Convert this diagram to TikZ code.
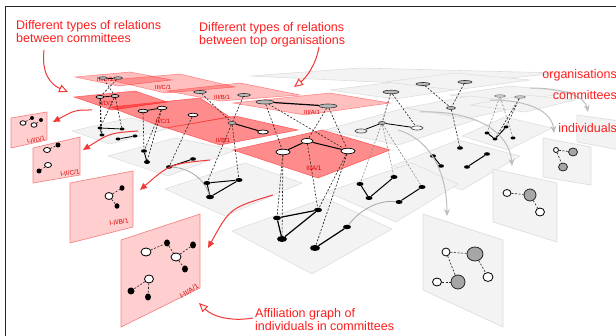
\documentclass[tikz,border=0pt]{standalone}
\usepackage{fontspec}
\setmainfont{Liberation Sans}
\usetikzlibrary{shapes.geometric,arrows.meta}
\definecolor{cRtext}{RGB}{255,28,28}
\definecolor{cRarrow}{RGB}{242,55,55}
\definecolor{cRpanel}{RGB}{255,206,206}
\definecolor{cRpanelb}{RGB}{245,135,135}
\definecolor{cGpl}{RGB}{243,243,243}
\definecolor{cGplb}{RGB}{222,222,222}
\definecolor{cGarrow}{RGB}{190,190,190}
\pgfdeclarelayer{planes}
\pgfdeclarelayer{links}
\pgfsetlayers{planes,links,main}
\begin{document}
\begin{tikzpicture}[x=1pt,y=-1pt,
  gplane/.style={fill=cGpl,draw=cGplb,line width=.6pt},
  rplanetwo/.style={fill=red,fill opacity=.45,draw=red!85,draw opacity=.6,line width=.6pt},
  rplanethree/.style={fill=red,fill opacity=.25,draw=red!85,draw opacity=.45,line width=.6pt},
  rpanel/.style={fill=cRpanel,draw=cRpanelb,line width=.7pt},
  gpanel/.style={fill=cGpl,draw=cGplb,line width=.7pt},
  onode/.style={ellipse,draw=black!80,fill=gray!55,line width=.6pt,inner sep=0pt,minimum width=14pt,minimum height=3.5pt},
  cnode/.style={ellipse,draw=black,fill=white,line width=.7pt,inner sep=0pt,minimum width=13pt,minimum height=5pt},
  inode/.style={ellipse,fill=black,inner sep=0pt,minimum width=7pt,minimum height=4pt},
  pwn/.style={ellipse,draw=black,fill=white,line width=.8pt,inner sep=0pt,minimum width=9pt,minimum height=7pt},
  pbn/.style={ellipse,fill=black,inner sep=0pt,minimum width=5pt,minimum height=6pt},
  pgn/.style={ellipse,draw=black!85,fill=gray!70,line width=.8pt,inner sep=0pt,minimum width=13pt,minimum height=12pt},
  dl/.style={draw=black!85,dash pattern=on 2pt off 1.6pt,line width=.65pt},
  ldl/.style={draw=black!45,dash pattern=on 2pt off 1.6pt,line width=.6pt},
  sl/.style={draw=black,line width=1pt},
  plabel/.style={text=red!85!black,font=\fontsize{6}{7}\selectfont,inner sep=0pt},
  captxt/.style={text=cRtext,font=\fontsize{12.5}{12.8}\selectfont,align=left,inner sep=0pt},
  rarr/.style={draw=cRarrow,line width=1pt,-{Triangle[length=7pt,width=6pt]}},
  oarr/.style={draw=cRarrow,line width=1pt,-{Triangle[open,length=9pt,width=8pt]}},
  garr/.style={draw=cGarrow,line width=1pt,-{Stealth[length=7pt,width=6pt]}},
  gcurve/.style={draw=gray!70,line width=.8pt}
]
\useasboundingbox (0,0) rectangle (616,336);

% ---------------- planes ----------------
\begin{pgfonlayer}{planes}
% right group, organisations level
\draw[gplane] (250,76) -- (360,68) -- (560,73) -- (440,85) -- cycle;
\draw[gplane] (330,90) -- (420,79) -- (480,86) -- (395,99) -- cycle;
\draw[gplane] (385,82) -- (455,73) -- (530,80) -- (455,90) -- cycle;
\draw[gplane] (450,95) -- (510,86) -- (570,92) -- (510,103) -- cycle;
% right group, committees level
\draw[gplane] (325,130) -- (405,108) -- (475,120) -- (398,145) -- cycle;
\draw[gplane] (405,108) -- (470,96) -- (535,104) -- (470,118) -- cycle;
\draw[gplane] (470,105) -- (525,95) -- (575,100) -- (525,112) -- cycle;
% right group, individuals level
\draw[gplane] (462,136) -- (505,117) -- (552,128) -- (508,150) -- cycle;
\draw[gplane] (392,166) -- (458,140) -- (520,156) -- (462,190) -- cycle;
\draw[gplane] (327,192) -- (412,163) -- (458,184) -- (396,222) -- cycle;
% left group, individuals level
\draw[gplane] (72,131) -- (130,118) -- (170,128) -- (110,144) -- cycle;
\draw[gplane] (108,156) -- (175,138) -- (236,150) -- (168,176) -- cycle;
\draw[gplane] (165,189) -- (245,163) -- (302,183) -- (225,216) -- cycle;
\draw[gplane] (232,231) -- (325,198) -- (392,229) -- (312,274) -- cycle;
% left group, committees level (II)
\draw[rplanetwo] (74,97) -- (135,91) -- (167,102) -- (112,110) -- cycle;
\draw[rplanetwo] (110,107) -- (200,98) -- (230,117) -- (165,128) -- cycle;
\draw[rplanetwo] (167,128) -- (235,116) -- (298,130) -- (220,145) -- cycle;
\draw[rplanetwo] (233,150) -- (322,130) -- (390,150) -- (318,178) -- cycle;
% left group, organisations level (III)
\draw[rplanethree] (75,77) -- (130,72) -- (172,80) -- (118,86) -- cycle;
\draw[rplanethree] (110,80) -- (180,74) -- (235,87) -- (165,93) -- cycle;
\draw[rplanethree] (167,91) -- (240,83) -- (300,95) -- (220,101) -- cycle;
\draw[rplanethree] (233,103) -- (330,93) -- (390,103) -- (305,115) -- cycle;
% side panels (red)
\draw[rpanel] (11,118) -- (47,112) -- (47,140) -- (11,148) -- cycle;
\draw[rpanel] (33,148) -- (80,137) -- (80,175) -- (33,183) -- cycle;
\draw[rpanel] (70,183) -- (133,171) -- (133,227) -- (70,243) -- cycle;
\draw[rpanel] (121,240) -- (200,214) -- (200,288) -- (121,327) -- cycle;
% side panels (gray)
\draw[gpanel] (577,115) -- (620,121) -- (620,150) -- (577,142) -- cycle;
\draw[gpanel] (543,138) -- (591,147) -- (591,185) -- (543,177) -- cycle;
\draw[gpanel] (493,169) -- (557,183) -- (557,242) -- (493,222) -- cycle;
\draw[gpanel] (423,214) -- (503,240) -- (503,327) -- (423,290) -- cycle;
\end{pgfonlayer}

% frame
\draw[line width=1.8pt,black!85] (5.5,336) -- (5.5,6.5) -- (616,6.5);

% ---------------- plane labels ----------------
\node[plabel] (l3d) at (105,79) {III/D/1};
\node[plabel] (l3c) at (163,87) {III/C/1};
\node[plabel] (l3b) at (222,97) {III/B/1};
\node[plabel] (l3a) at (312,112) {III/A/1};
\node[plabel] (l2d) at (106,103) {II/D/1};
\node[plabel] (l2c) at (163,121) {II/C/1};
\node[plabel] (l2b) at (223,140) {II/B/1};
\node[plabel,font=\fontsize{6.5}{7}\selectfont] (l2a) at (314,168) {II/A/1};
\node[plabel,rotate=12] (lpd) at (36,140) {I-II/D/1};
\node[plabel,rotate=10,font=\fontsize{6.5}{7}\selectfont] (lpc) at (70,173) {I-II/C/1};
\node[plabel,rotate=9,font=\fontsize{6.5}{7}\selectfont] (lpb) at (119,222) {I-II/B/1};
\node[plabel,rotate=32,font=\fontsize{7}{8}\selectfont] (lpa) at (189,291) {I-II/A/1};

% ---------------- nodes: left group ----------------
\node[onode,minimum width=9pt,minimum height=2.5pt] (od1) at (103,78) {};
\node[onode,minimum width=9pt,minimum height=2.5pt] (od2) at (118,78) {};
\node[onode,minimum width=13pt,minimum height=3pt] (ob1) at (200,92) {};
\node[onode,minimum width=13pt,minimum height=3pt] (ob2) at (244,95) {};
\node[onode,minimum width=18pt,minimum height=4pt] (oa1) at (265,102) {};
\node[onode,minimum width=18pt,minimum height=4pt] (oa2) at (328,106) {};
\node[cnode,fill=gray!35,minimum width=8pt,minimum height=3pt] (cd1) at (100,97) {};
\node[cnode,fill=gray!35,minimum width=8pt,minimum height=3pt] (cd2) at (115,96) {};
\node[cnode,fill=gray!25,minimum width=10pt,minimum height=3.5pt] (cc1) at (143,111) {};
\node[cnode,fill=gray!10,minimum width=10pt,minimum height=3.5pt] (cc2) at (162,108) {};
\node[cnode,minimum width=10pt,minimum height=3.5pt] (cc3) at (193,115) {};
\node[onode,minimum width=8pt,minimum height=3pt] (cb1) at (232,123) {};
\node[cnode,minimum width=11pt,minimum height=4pt] (cb2) at (263,132) {};
\node[cnode,minimum width=14pt,minimum height=5.5pt] (ca1) at (283,152) {};
\node[cnode,minimum width=12pt,minimum height=5pt] (ca2) at (307,141) {};
\node[cnode,minimum width=14pt,minimum height=5.5pt] (ca3) at (348,151) {};
\node[inode,minimum width=5pt,minimum height=3pt] (id1) at (100,128) {};
\node[inode,minimum width=5pt,minimum height=3pt] (id2) at (122,129) {};
\node[inode,minimum width=5pt,minimum height=3pt] (id3) at (102,135) {};
\node[inode,minimum width=5pt,minimum height=3pt] (id4) at (118,139) {};
\node[inode,minimum width=5pt,minimum height=3pt] (id5) at (135,136) {};
\node[inode,minimum width=6pt,minimum height=3.5pt] (ic1) at (144,151) {};
\node[inode,minimum width=6pt,minimum height=4pt] (ic2) at (147,162) {};
\node[inode,minimum width=6pt,minimum height=3.5pt] (ic3) at (169,167) {};
\node[inode,minimum width=6pt,minimum height=3.5pt] (ic4) at (193,159) {};
\node[inode] (ib1) at (207,183) {};
\node[inode] (ib2) at (239,180) {};
\node[inode,minimum width=8pt,minimum height=4.5pt] (ib3) at (210,197) {};
\node[inode,minimum width=8pt,minimum height=4.5pt] (ia1) at (277,218) {};
\node[inode,minimum width=8pt,minimum height=4.5pt] (ia2) at (318,210) {};
\node[inode,minimum width=10pt,minimum height=6pt] (ia3) at (282,239) {};
\node[inode,minimum width=10pt,minimum height=6pt] (ia4) at (315,248) {};
\node[inode,minimum width=8pt,minimum height=4.5pt] (ia5) at (347,227) {};

% ---------------- nodes: right group ----------------
\node[onode,minimum width=16pt,minimum height=3.5pt] (ro1) at (391,92) {};
\node[onode,minimum width=14pt,minimum height=3pt] (ro2) at (423,84) {};
\node[onode,minimum width=14pt,minimum height=3pt] (ro3) at (465,82) {};
\node[onode,draw=black!50,fill=gray!35,minimum width=11pt,minimum height=2.5pt] (ro4) at (500,96) {};
\node[onode,draw=black!50,fill=gray!35,minimum width=11pt,minimum height=2.5pt] (ro5) at (520,97) {};
\node[cnode,draw=black!70,fill=gray!15,minimum width=12pt,minimum height=4pt] (rc1) at (361,131) {};
\node[onode,minimum width=7pt,minimum height=3pt] (rc2) at (382,123) {};
\node[cnode,draw=black!70,minimum width=12pt,minimum height=4pt] (rc3) at (417,128) {};
\node[onode,minimum width=9pt,minimum height=3pt] (rc4) at (451,108) {};
\node[inode] (ri1) at (360,184) {};
\node[inode] (ri2) at (369,198) {};
\node[inode] (ri3) at (394,177) {};
\node[inode] (ri4) at (399,202) {};
\node[inode] (ri5) at (422,187) {};
\node[inode,minimum width=6pt,minimum height=3.5pt] (ri6) at (433,156) {};
\node[inode,minimum width=6pt,minimum height=3.5pt] (ri7) at (441,166) {};
\node[inode,minimum width=6pt,minimum height=3.5pt] (ri8) at (467,167) {};
\node[inode,minimum width=6pt,minimum height=3.5pt] (ri9) at (487,154) {};
\node[inode,minimum width=6pt,minimum height=3.5pt] (ri10) at (460,148) {};
\node[inode,minimum width=5pt,minimum height=3pt] (ri11) at (487,133) {};
\node[inode,minimum width=5pt,minimum height=3pt] (ri12) at (495,139) {};
\node[inode,minimum width=5pt,minimum height=3pt] (ri13) at (506,127) {};
\node[inode,minimum width=5pt,minimum height=3pt] (ri14) at (513,138) {};

% ---------------- panel nodes ----------------
\node[pwn,minimum width=6pt,minimum height=4.5pt] (pa1) at (23,123) {};
\node[pbn,minimum width=4pt,minimum height=4pt] (pa2) at (32,118) {};
\node[pwn,minimum width=6pt,minimum height=4.5pt] (pa3) at (34,125) {};
\node[pbn,minimum width=4pt,minimum height=4pt] (pa4) at (41,120) {};
\node[pwn,minimum width=7pt,minimum height=5pt] (pb1) at (47,150) {};
\node[pbn,minimum width=5pt,minimum height=5pt] (pb2) at (58,145) {};
\node[pwn,minimum width=7pt,minimum height=5pt] (pb3) at (48,165) {};
\node[pbn,minimum width=5pt,minimum height=5pt] (pb4) at (39,171) {};
\node[pwn,minimum width=8pt,minimum height=7pt] (pc1) at (109,196) {};
\node[pbn,minimum width=5pt,minimum height=5.5pt] (pc2) at (122,188) {};
\node[pbn,minimum width=5pt,minimum height=5.5pt] (pc3) at (117,206) {};
\node[pwn,minimum width=10pt,minimum height=8pt] (pd1) at (146,252) {};
\node[pbn,minimum width=6pt,minimum height=7pt] (pd2) at (167,243) {};
\node[pwn,minimum width=10pt,minimum height=8pt] (pd3) at (176,257) {};
\node[pbn,minimum width=6pt,minimum height=7pt] (pd4) at (193,245) {};
\node[pbn,minimum width=6pt,minimum height=7pt] (pd5) at (185,269) {};
\node[pwn,minimum width=9pt,minimum height=8pt] (pd6) at (149,279) {};
\node[pbn,minimum width=7pt,minimum height=7pt] (pd7) at (131,291) {};
\node[pbn,minimum width=6pt,minimum height=7pt] (pd8) at (148,297) {};
\node[pwn,minimum width=8pt,minimum height=8pt] (g1a) at (446,252) {};
\node[pgn,minimum width=16pt,minimum height=14pt] (g1b) at (475,254) {};
\node[pwn,minimum width=10pt,minimum height=9pt] (g1c) at (488,277) {};
\node[pwn,minimum width=9pt,minimum height=8pt] (g1d) at (437,282) {};
\node[pgn,minimum width=14pt,minimum height=14pt] (g1e) at (458,282) {};
\node[pwn,minimum width=8pt,minimum height=7pt] (g2a) at (507,193) {};
\node[pgn,minimum width=12pt,minimum height=12pt] (g2b) at (530,195) {};
\node[pwn,minimum width=9pt,minimum height=8pt] (g2c) at (540,212) {};
\node[pwn,minimum width=5pt,minimum height=5pt] (g3a) at (556,150) {};
\node[pgn,minimum width=9pt,minimum height=8pt] (g3b) at (573,152) {};
\node[pgn,minimum width=9pt,minimum height=8pt] (g3c) at (563,167) {};

% ---------------- links ----------------
\begin{pgfonlayer}{links}
% solid edges left
\draw[sl,line width=.6pt] (od1) -- (od2);
\draw[sl,line width=1.2pt] (oa1) -- (oa2);
\draw[sl,line width=.7pt] (cd1) -- (cd2);
\draw[sl,line width=.8pt] (cc1) -- (cc2);
\draw[sl] (cb1) -- (cb2);
\draw[sl] (ca1) -- (ca2) -- (ca3);
\draw[sl,line width=.8pt] (id1) -- (id2);
\draw[sl,line width=.8pt] (id1) -- (id3);
\draw[sl,line width=.8pt] (id4) -- (id5);
\draw[sl] (ic1) -- (ic2);
\draw[sl] (ic3) -- (ic4);
\draw[sl] (ib1) -- (ib2) -- (ib3) -- (ib1);
\draw[sl,line width=1.2pt] (ia1) -- (ia2) -- (ia3) -- (ia1);
\draw[sl,line width=1.2pt] (ia4) -- (ia5);
% solid edges right
\draw[sl,line width=.8pt] (rc1) -- (rc2) -- (rc3);
\draw[sl] (ri1) -- (ri2) -- (ri3);
\draw[sl] (ri4) -- (ri5);
\draw[sl] (ri6) -- (ri7);
\draw[sl] (ri8) -- (ri9);
\draw[sl] (ri11) -- (ri12) -- (ri13);
% dashed, left
\draw[dl] (od1) -- (cd2);
\draw[dl] (od2) -- (cd1);
\draw[dl] (cd1) -- (id1);
\draw[dl] (cd1) -- (id3);
\draw[dl] (cd2) -- (id1);
\draw[dl] (cd2) -- (id2);
\draw[dl] (cc1) -- (ic1);
\draw[dl] (cc2) -- (ic1);
\draw[dl] (cc2) -- (ic2);
\draw[dl] (cc3) -- (ic3);
\draw[dl] (ob1) -- (cb1);
\draw[dl] (ob2) -- (cb1);
\draw[dl] (cb1) -- (ib1);
\draw[dl] (cb1) -- (ib2);
\draw[dl] (oa1) -- (ca1);
\draw[dl] (oa1) -- (ca3);
\draw[dl] (oa2) -- (ca2);
\draw[dl] (oa2) -- (ca3);
\draw[dl] (ca1) -- (ia1);
\draw[dl] (ca1) -- (ia3);
\draw[dl] (ca2) -- (ia2);
\draw[dl] (ca3) -- (ia2);
\draw[dl] (ca3) -- (ia4);
% dashed, right
\draw[dl] (ro1) -- (rc2);
\draw[dl] (ro1) -- (rc3);
\draw[dl] (ro2) -- (rc4);
\draw[dl] (ro3) -- (rc4);
\draw[dl] (rc4) -- (ri10);
\draw[ldl] (ro4) -- (ri11);
\draw[ldl] (ro4) -- (ri14);
\draw[dl] (ro5) -- (ri13);
\draw[dl] (ro5) -- (ri12);
\draw[ldl] (rc2) -- (ri1);
\draw[ldl] (rc2) -- (ri3);
\draw[ldl] (rc2) -- (ri5);
% panel edges
\draw[dl] (pa1) -- (pa2);
\draw[dl] (pa3) -- (pa4);
\draw[dl] (pb1) -- (pb2);
\draw[dl] (pb3) -- (pb4);
\draw[dl] (pc1) -- (pc2);
\draw[dl] (pc1) -- (pc3);
\draw[dl] (pd1) -- (pd2);
\draw[dl] (pd2) -- (pd3);
\draw[dl] (pd3) -- (pd4);
\draw[dl] (pd3) -- (pd5);
\draw[dl] (pd6) -- (pd7);
\draw[dl] (pd6) -- (pd8);
\draw[dl] (g1a) -- (g1b);
\draw[dl] (g1b) -- (g1c);
\draw[dl] (g1a) -- (g1e);
\draw[dl] (g1d) -- (g1e);
\draw[dl] (g2a) -- (g2b);
\draw[dl] (g2b) -- (g2c);
\draw[dl] (g3a) -- (g3b);
\draw[dl] (g3a) -- (g3c);
% gray inter-slice curves
\draw[gcurve] (ic3) .. controls (190,168) and (205,180) .. (ib3);
\draw[gcurve] (ia5) .. controls (362,207) and (382,200) .. (ri4);
\end{pgfonlayer}

% ---------------- arrows ----------------
\coordinate (ra1s) at (92,110);  \coordinate (ra1e) at (53,122);
\coordinate (ra2s) at (138,131); \coordinate (ra2e) at (83,150);
\coordinate (ra3s) at (210,160); \coordinate (ra3e) at (140,190);
\coordinate (ra4s) at (273,195); \coordinate (ra4e) at (208,248);
\draw[rarr] (ra1s) .. controls (75,110) .. (ra1e);
\draw[rarr] (ra2s) .. controls (110,133) .. (ra2e);
\draw[rarr] (ra3s) .. controls (170,164) .. (ra3e);
\draw[rarr] (ra4s) .. controls (230,208) .. (ra4e);

\coordinate (ga1s) at (398,130); \coordinate (ga1e) at (447,216);
\coordinate (ga2s) at (420,112); \coordinate (ga2e) at (512,166);
\coordinate (ga3s) at (490,100); \coordinate (ga3e) at (554,133);
\coordinate (ga4s) at (530,88);  \coordinate (ga4e) at (588,112);
\draw[garr] (ga1s) .. controls (432,140) and (447,175) .. (ga1e);
\draw[garr] (ga2s) .. controls (480,110) and (510,135) .. (ga2e);
\draw[garr] (ga3s) .. controls (530,100) and (552,112) .. (ga3e);
\draw[garr] (ga4s) .. controls (565,88) and (585,97) .. (ga4e);

% ---------------- captions ----------------
\node[captxt,anchor=north west] (t1) at (16,20.5) {Different types of relations\\between committees};
\node[captxt,anchor=north west] (t2) at (199,22) {Different types of relations\\between top organisations};
\node[captxt,anchor=north west] (t3) at (255,308) {Affiliation graph of\\individuals in committees};
\node[captxt,anchor=base east] (t4) at (617,79) {organisations};
\node[captxt,anchor=base east] (t5) at (617,100) {committees};
\node[captxt,anchor=base east] (t6) at (617,133) {individuals};

\coordinate (oa1s) at (44,50);  \coordinate (oa1e) at (68,92);
\coordinate (oa2s) at (319,47); \coordinate (oa2e) at (294,87);
\coordinate (oa3s) at (253,318); \coordinate (oa3e) at (199,303);
\draw[oarr] (oa1s) .. controls (41,75) and (52,85) .. (oa1e);
\draw[oarr] (oa2s) .. controls (316,65) and (306,78) .. (oa2e);
\draw[oarr] (oa3s) .. controls (230,322) and (212,316) .. (oa3e);
\end{tikzpicture}
\end{document}
